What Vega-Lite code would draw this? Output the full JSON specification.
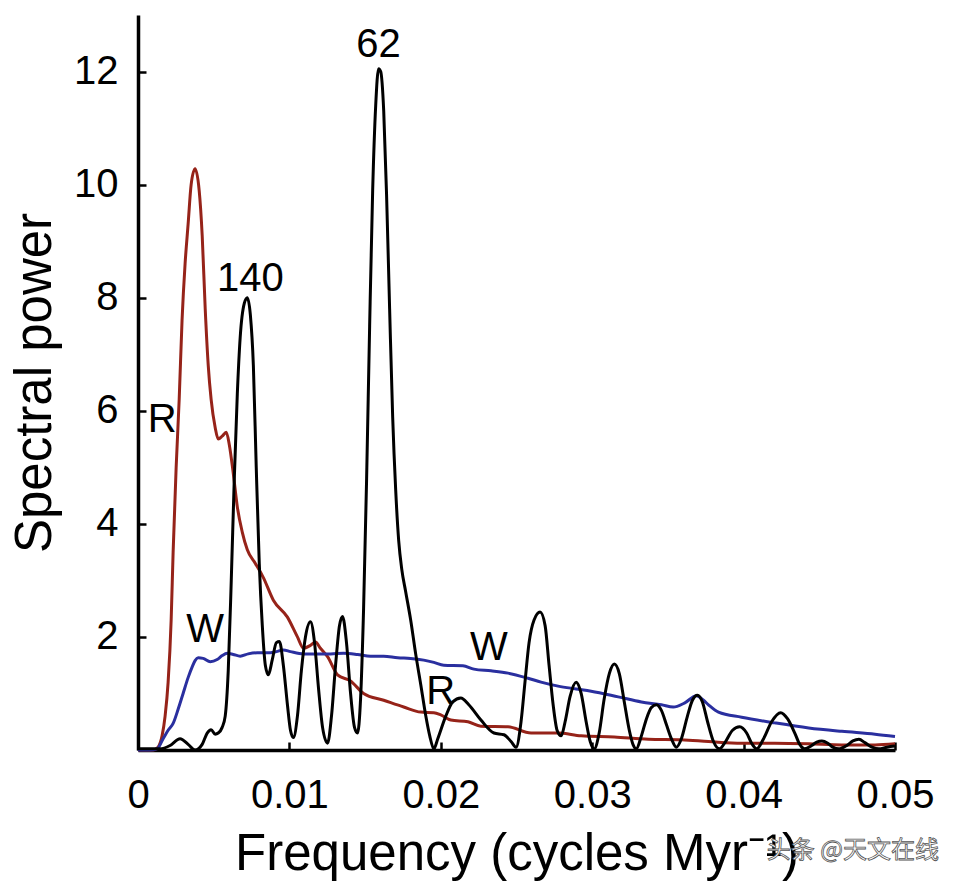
{
  "$schema": "https://vega.github.io/schema/vega-lite/v6.json",
  "description": "Spectral power vs frequency with R and W reference spectra",
  "autosize": {"type": "none"},
  "padding": {"left": 138, "top": 15, "right": 65, "bottom": 134},
  "width": 757,
  "height": 735,
  "background": "white",
  "config": {
    "view": {"stroke": null},
    "font": "Liberation Sans",
    "axis": {
      "grid": false,
      "domainColor": "#000000",
      "domainWidth": 3.5,
      "tickColor": "#000000",
      "tickWidth": 2.5,
      "tickSize": -8,
      "labelFont": "Liberation Sans",
      "labelFontSize": 40,
      "labelColor": "#000000",
      "titleFont": "Liberation Sans",
      "titleFontSize": 51,
      "titleFontWeight": "normal",
      "titleColor": "#000000"
    }
  },
  "datasets": {
    "curves": [
      {"series": "R", "freq": 0, "power": 0},
      {"series": "R", "freq": 0.00099, "power": 0},
      {"series": "R", "freq": 0.00132, "power": 0.05},
      {"series": "R", "freq": 0.00159, "power": 0.25},
      {"series": "R", "freq": 0.00179, "power": 0.6},
      {"series": "R", "freq": 0.00199, "power": 1.2},
      {"series": "R", "freq": 0.00219, "power": 2.3},
      {"series": "R", "freq": 0.00232, "power": 3.5},
      {"series": "R", "freq": 0.00252, "power": 5.0},
      {"series": "R", "freq": 0.00272, "power": 6.2},
      {"series": "R", "freq": 0.00291, "power": 7.6},
      {"series": "R", "freq": 0.00311, "power": 8.6},
      {"series": "R", "freq": 0.00331, "power": 9.3},
      {"series": "R", "freq": 0.00351, "power": 10.0},
      {"series": "R", "freq": 0.00377, "power": 10.28},
      {"series": "R", "freq": 0.00404, "power": 9.9},
      {"series": "R", "freq": 0.00424, "power": 9.1},
      {"series": "R", "freq": 0.00444, "power": 7.8},
      {"series": "R", "freq": 0.00464, "power": 6.8},
      {"series": "R", "freq": 0.00483, "power": 6.2},
      {"series": "R", "freq": 0.0051, "power": 5.7},
      {"series": "R", "freq": 0.0053, "power": 5.5},
      {"series": "R", "freq": 0.00556, "power": 5.55},
      {"series": "R", "freq": 0.00583, "power": 5.62},
      {"series": "R", "freq": 0.00603, "power": 5.4},
      {"series": "R", "freq": 0.00629, "power": 4.9},
      {"series": "R", "freq": 0.00656, "power": 4.3},
      {"series": "R", "freq": 0.00689, "power": 3.85},
      {"series": "R", "freq": 0.00722, "power": 3.54},
      {"series": "R", "freq": 0.00775, "power": 3.3},
      {"series": "R", "freq": 0.00828, "power": 3.05},
      {"series": "R", "freq": 0.00894, "power": 2.65},
      {"series": "R", "freq": 0.00987, "power": 2.35},
      {"series": "R", "freq": 0.01053, "power": 2.0},
      {"series": "R", "freq": 0.01093, "power": 1.8},
      {"series": "R", "freq": 0.01139, "power": 1.85},
      {"series": "R", "freq": 0.01172, "power": 1.91},
      {"series": "R", "freq": 0.01205, "power": 1.8},
      {"series": "R", "freq": 0.01252, "power": 1.65},
      {"series": "R", "freq": 0.01318, "power": 1.33},
      {"series": "R", "freq": 0.01404, "power": 1.22},
      {"series": "R", "freq": 0.0149, "power": 1.0},
      {"series": "R", "freq": 0.01623, "power": 0.88},
      {"series": "R", "freq": 0.01755, "power": 0.76},
      {"series": "R", "freq": 0.01868, "power": 0.67},
      {"series": "R", "freq": 0.01954, "power": 0.66},
      {"series": "R", "freq": 0.02, "power": 0.62},
      {"series": "R", "freq": 0.02066, "power": 0.53},
      {"series": "R", "freq": 0.02179, "power": 0.5},
      {"series": "R", "freq": 0.02265, "power": 0.42},
      {"series": "R", "freq": 0.02444, "power": 0.41},
      {"series": "R", "freq": 0.02596, "power": 0.3},
      {"series": "R", "freq": 0.02775, "power": 0.3},
      {"series": "R", "freq": 0.02927, "power": 0.25},
      {"series": "R", "freq": 0.03146, "power": 0.23},
      {"series": "R", "freq": 0.03371, "power": 0.19},
      {"series": "R", "freq": 0.03589, "power": 0.18},
      {"series": "R", "freq": 0.03768, "power": 0.15},
      {"series": "R", "freq": 0.03987, "power": 0.12},
      {"series": "R", "freq": 0.04205, "power": 0.12},
      {"series": "R", "freq": 0.0443, "power": 0.11},
      {"series": "R", "freq": 0.04649, "power": 0.09},
      {"series": "R", "freq": 0.04868, "power": 0.09},
      {"series": "R", "freq": 0.05, "power": 0.11},

      {"series": "W", "freq": 0, "power": 0},
      {"series": "W", "freq": 0.00079, "power": 0},
      {"series": "W", "freq": 0.00126, "power": 0.02},
      {"series": "W", "freq": 0.00166, "power": 0.2},
      {"series": "W", "freq": 0.00199, "power": 0.35},
      {"series": "W", "freq": 0.00232, "power": 0.47},
      {"series": "W", "freq": 0.00265, "power": 0.72},
      {"series": "W", "freq": 0.00298, "power": 1.0},
      {"series": "W", "freq": 0.00331, "power": 1.28},
      {"series": "W", "freq": 0.00358, "power": 1.47},
      {"series": "W", "freq": 0.00377, "power": 1.58},
      {"series": "W", "freq": 0.00397, "power": 1.63},
      {"series": "W", "freq": 0.0043, "power": 1.62},
      {"series": "W", "freq": 0.00477, "power": 1.56},
      {"series": "W", "freq": 0.00523, "power": 1.6},
      {"series": "W", "freq": 0.00556, "power": 1.67},
      {"series": "W", "freq": 0.00589, "power": 1.71},
      {"series": "W", "freq": 0.00629, "power": 1.69},
      {"series": "W", "freq": 0.00675, "power": 1.66},
      {"series": "W", "freq": 0.00728, "power": 1.7},
      {"series": "W", "freq": 0.00788, "power": 1.72},
      {"series": "W", "freq": 0.00874, "power": 1.72},
      {"series": "W", "freq": 0.00914, "power": 1.74},
      {"series": "W", "freq": 0.0096, "power": 1.77},
      {"series": "W", "freq": 0.01007, "power": 1.74},
      {"series": "W", "freq": 0.01093, "power": 1.7},
      {"series": "W", "freq": 0.01172, "power": 1.7},
      {"series": "W", "freq": 0.01272, "power": 1.7},
      {"series": "W", "freq": 0.01358, "power": 1.71},
      {"series": "W", "freq": 0.0145, "power": 1.69},
      {"series": "W", "freq": 0.01536, "power": 1.66},
      {"series": "W", "freq": 0.01623, "power": 1.66},
      {"series": "W", "freq": 0.01715, "power": 1.63},
      {"series": "W", "freq": 0.01801, "power": 1.62},
      {"series": "W", "freq": 0.01887, "power": 1.59},
      {"series": "W", "freq": 0.01954, "power": 1.55},
      {"series": "W", "freq": 0.0202, "power": 1.5},
      {"series": "W", "freq": 0.02146, "power": 1.49},
      {"series": "W", "freq": 0.02219, "power": 1.43},
      {"series": "W", "freq": 0.02331, "power": 1.4},
      {"series": "W", "freq": 0.02444, "power": 1.36},
      {"series": "W", "freq": 0.02576, "power": 1.27},
      {"series": "W", "freq": 0.02662, "power": 1.2},
      {"series": "W", "freq": 0.02775, "power": 1.13},
      {"series": "W", "freq": 0.02894, "power": 1.08},
      {"series": "W", "freq": 0.02993, "power": 1.04},
      {"series": "W", "freq": 0.03172, "power": 0.94},
      {"series": "W", "freq": 0.03325, "power": 0.85},
      {"series": "W", "freq": 0.03457, "power": 0.8},
      {"series": "W", "freq": 0.03536, "power": 0.76},
      {"series": "W", "freq": 0.03609, "power": 0.83},
      {"series": "W", "freq": 0.03689, "power": 0.96},
      {"series": "W", "freq": 0.03735, "power": 0.88},
      {"series": "W", "freq": 0.03768, "power": 0.8},
      {"series": "W", "freq": 0.03834, "power": 0.67},
      {"series": "W", "freq": 0.03987, "power": 0.58},
      {"series": "W", "freq": 0.04205, "power": 0.48},
      {"series": "W", "freq": 0.0443, "power": 0.39},
      {"series": "W", "freq": 0.04649, "power": 0.33},
      {"series": "W", "freq": 0.04868, "power": 0.28},
      {"series": "W", "freq": 0.05, "power": 0.24},

      {"series": "data", "freq": 0, "power": 0.02},
      {"series": "data", "freq": 0.00146, "power": 0.02},
      {"series": "data", "freq": 0.00212, "power": 0.08},
      {"series": "data", "freq": 0.00278, "power": 0.2},
      {"series": "data", "freq": 0.00331, "power": 0.1},
      {"series": "data", "freq": 0.00377, "power": 0.0},
      {"series": "data", "freq": 0.00424, "power": 0.1},
      {"series": "data", "freq": 0.00457, "power": 0.3},
      {"series": "data", "freq": 0.00483, "power": 0.36},
      {"series": "data", "freq": 0.0051, "power": 0.28},
      {"series": "data", "freq": 0.0053, "power": 0.3},
      {"series": "data", "freq": 0.00556, "power": 0.4},
      {"series": "data", "freq": 0.00576, "power": 0.6},
      {"series": "data", "freq": 0.00596, "power": 1.4},
      {"series": "data", "freq": 0.00616, "power": 3.0},
      {"series": "data", "freq": 0.00636, "power": 4.8},
      {"series": "data", "freq": 0.00656, "power": 6.3},
      {"series": "data", "freq": 0.00675, "power": 7.3},
      {"series": "data", "freq": 0.00702, "power": 7.9},
      {"series": "data", "freq": 0.00722, "power": 8.0},
      {"series": "data", "freq": 0.00742, "power": 7.7},
      {"series": "data", "freq": 0.00762, "power": 6.8},
      {"series": "data", "freq": 0.00781, "power": 5.0},
      {"series": "data", "freq": 0.00801, "power": 3.3},
      {"series": "data", "freq": 0.00821, "power": 2.2},
      {"series": "data", "freq": 0.00841, "power": 1.5},
      {"series": "data", "freq": 0.00861, "power": 1.33},
      {"series": "data", "freq": 0.00887, "power": 1.6},
      {"series": "data", "freq": 0.00914, "power": 1.9},
      {"series": "data", "freq": 0.00934, "power": 1.92},
      {"series": "data", "freq": 0.0096, "power": 1.5},
      {"series": "data", "freq": 0.00987, "power": 0.8},
      {"series": "data", "freq": 0.01007, "power": 0.35},
      {"series": "data", "freq": 0.01026, "power": 0.22},
      {"series": "data", "freq": 0.01053, "power": 0.6},
      {"series": "data", "freq": 0.01079, "power": 1.4},
      {"series": "data", "freq": 0.01106, "power": 2.0},
      {"series": "data", "freq": 0.01139, "power": 2.27},
      {"series": "data", "freq": 0.01166, "power": 1.9},
      {"series": "data", "freq": 0.01192, "power": 1.1},
      {"series": "data", "freq": 0.01219, "power": 0.4},
      {"series": "data", "freq": 0.01252, "power": 0.12},
      {"series": "data", "freq": 0.01278, "power": 0.6},
      {"series": "data", "freq": 0.01305, "power": 1.5},
      {"series": "data", "freq": 0.01331, "power": 2.2},
      {"series": "data", "freq": 0.01351, "power": 2.36},
      {"series": "data", "freq": 0.01377, "power": 1.9},
      {"series": "data", "freq": 0.01404, "power": 1.0},
      {"series": "data", "freq": 0.0143, "power": 0.4},
      {"series": "data", "freq": 0.0145, "power": 0.3},
      {"series": "data", "freq": 0.0147, "power": 0.9},
      {"series": "data", "freq": 0.0149, "power": 2.5},
      {"series": "data", "freq": 0.0151, "power": 4.8},
      {"series": "data", "freq": 0.0153, "power": 7.5},
      {"series": "data", "freq": 0.0155, "power": 9.9},
      {"series": "data", "freq": 0.0157, "power": 11.4},
      {"series": "data", "freq": 0.01589, "power": 12.05},
      {"series": "data", "freq": 0.01603, "power": 12.0},
      {"series": "data", "freq": 0.01623, "power": 11.3},
      {"series": "data", "freq": 0.01642, "power": 9.8},
      {"series": "data", "freq": 0.01662, "power": 7.8},
      {"series": "data", "freq": 0.01682, "power": 5.9},
      {"series": "data", "freq": 0.01702, "power": 4.6},
      {"series": "data", "freq": 0.01722, "power": 3.7},
      {"series": "data", "freq": 0.01742, "power": 3.2},
      {"series": "data", "freq": 0.01768, "power": 2.8},
      {"series": "data", "freq": 0.01801, "power": 2.3},
      {"series": "data", "freq": 0.01834, "power": 1.7},
      {"series": "data", "freq": 0.01868, "power": 1.15},
      {"series": "data", "freq": 0.01901, "power": 0.6},
      {"series": "data", "freq": 0.01927, "power": 0.25},
      {"series": "data", "freq": 0.01954, "power": 0.02},
      {"series": "data", "freq": 0.0198, "power": 0.2},
      {"series": "data", "freq": 0.02033, "power": 0.6},
      {"series": "data", "freq": 0.02079, "power": 0.85},
      {"series": "data", "freq": 0.02132, "power": 0.92},
      {"series": "data", "freq": 0.02185, "power": 0.8},
      {"series": "data", "freq": 0.02265, "power": 0.53},
      {"series": "data", "freq": 0.02351, "power": 0.3},
      {"series": "data", "freq": 0.02417, "power": 0.27},
      {"series": "data", "freq": 0.02464, "power": 0.15},
      {"series": "data", "freq": 0.02497, "power": 0.05},
      {"series": "data", "freq": 0.0253, "power": 0.5},
      {"series": "data", "freq": 0.02556, "power": 1.2},
      {"series": "data", "freq": 0.02583, "power": 1.9},
      {"series": "data", "freq": 0.02616, "power": 2.3},
      {"series": "data", "freq": 0.02656, "power": 2.44},
      {"series": "data", "freq": 0.02689, "power": 2.2},
      {"series": "data", "freq": 0.02715, "power": 1.5},
      {"series": "data", "freq": 0.02742, "power": 0.8},
      {"series": "data", "freq": 0.02768, "power": 0.35},
      {"series": "data", "freq": 0.02795, "power": 0.25},
      {"series": "data", "freq": 0.02821, "power": 0.5},
      {"series": "data", "freq": 0.02854, "power": 0.95},
      {"series": "data", "freq": 0.02894, "power": 1.2},
      {"series": "data", "freq": 0.02927, "power": 1.0},
      {"series": "data", "freq": 0.0296, "power": 0.5},
      {"series": "data", "freq": 0.02987, "power": 0.15},
      {"series": "data", "freq": 0.03013, "power": 0.02},
      {"series": "data", "freq": 0.03046, "power": 0.3},
      {"series": "data", "freq": 0.03079, "power": 0.9},
      {"series": "data", "freq": 0.03113, "power": 1.35},
      {"series": "data", "freq": 0.03146, "power": 1.52},
      {"series": "data", "freq": 0.03179, "power": 1.35},
      {"series": "data", "freq": 0.03212, "power": 0.85},
      {"series": "data", "freq": 0.03245, "power": 0.35},
      {"series": "data", "freq": 0.03272, "power": 0.08},
      {"series": "data", "freq": 0.03291, "power": 0.02},
      {"series": "data", "freq": 0.03325, "power": 0.25},
      {"series": "data", "freq": 0.03358, "power": 0.55},
      {"series": "data", "freq": 0.03391, "power": 0.75},
      {"series": "data", "freq": 0.03424, "power": 0.8},
      {"series": "data", "freq": 0.03457, "power": 0.7},
      {"series": "data", "freq": 0.0349, "power": 0.45},
      {"series": "data", "freq": 0.03523, "power": 0.2},
      {"series": "data", "freq": 0.03556, "power": 0.05},
      {"series": "data", "freq": 0.03589, "power": 0.2},
      {"series": "data", "freq": 0.03629, "power": 0.6},
      {"series": "data", "freq": 0.03662, "power": 0.88},
      {"series": "data", "freq": 0.03695, "power": 0.97},
      {"series": "data", "freq": 0.03728, "power": 0.85},
      {"series": "data", "freq": 0.03762, "power": 0.5},
      {"series": "data", "freq": 0.03801, "power": 0.15},
      {"series": "data", "freq": 0.03841, "power": 0.02},
      {"series": "data", "freq": 0.03881, "power": 0.15},
      {"series": "data", "freq": 0.03927, "power": 0.35},
      {"series": "data", "freq": 0.03974, "power": 0.41},
      {"series": "data", "freq": 0.0402, "power": 0.3},
      {"series": "data", "freq": 0.04053, "power": 0.12},
      {"series": "data", "freq": 0.04086, "power": 0.02},
      {"series": "data", "freq": 0.04132, "power": 0.2},
      {"series": "data", "freq": 0.04185, "power": 0.5},
      {"series": "data", "freq": 0.04245, "power": 0.66},
      {"series": "data", "freq": 0.04291, "power": 0.55},
      {"series": "data", "freq": 0.04338, "power": 0.3},
      {"series": "data", "freq": 0.04371, "power": 0.1},
      {"series": "data", "freq": 0.04404, "power": 0.02},
      {"series": "data", "freq": 0.0445, "power": 0.08},
      {"series": "data", "freq": 0.04483, "power": 0.14},
      {"series": "data", "freq": 0.04517, "power": 0.16},
      {"series": "data", "freq": 0.04556, "power": 0.12},
      {"series": "data", "freq": 0.04589, "power": 0.05},
      {"series": "data", "freq": 0.04629, "power": 0.02},
      {"series": "data", "freq": 0.04682, "power": 0.08},
      {"series": "data", "freq": 0.04722, "power": 0.16},
      {"series": "data", "freq": 0.04762, "power": 0.19},
      {"series": "data", "freq": 0.04801, "power": 0.13},
      {"series": "data", "freq": 0.04848, "power": 0.05},
      {"series": "data", "freq": 0.04894, "power": 0.02},
      {"series": "data", "freq": 0.04947, "power": 0.05},
      {"series": "data", "freq": 0.05, "power": 0.07}
    ],
    "labels": [
      {"label": "62", "freq": 0.01589, "power": 12.25},
      {"label": "140", "freq": 0.00742, "power": 8.11},
      {"label": "R", "freq": 0.00159, "power": 5.63},
      {"label": "W", "freq": 0.00444, "power": 1.91},
      {"label": "W", "freq": 0.02318, "power": 1.59},
      {"label": "R", "freq": 0.02, "power": 0.81}
    ],
    "watermark": [
      {"label": "头条 @天文在线", "freq": 0.04722, "power": -1.91}
    ]
  },
  "encoding": {
    "x": {
      "field": "freq",
      "type": "quantitative",
      "scale": {"domain": [0, 0.05], "nice": false, "zero": false},
      "axis": {
        "title": "Frequency (cycles Myr⁻¹)",
        "values": [0, 0.01, 0.02, 0.03, 0.04, 0.05],
        "format": ".2~f",
        "labelFlush": false,
        "labelPadding": 33,
        "titlePadding": 14
      }
    },
    "y": {
      "field": "power",
      "type": "quantitative",
      "scale": {"domain": [0, 13], "nice": false, "zero": false},
      "axis": {
        "title": "Spectral power",
        "values": [2, 4, 6, 8, 10, 12],
        "labelFlush": false,
        "labelPadding": 28,
        "titlePadding": 12
      }
    }
  },
  "layer": [
    {
      "data": {"name": "curves"},
      "mark": {"type": "line", "interpolate": "monotone", "strokeJoin": "round"},
      "encoding": {
        "color": {
          "field": "series",
          "type": "nominal",
          "legend": null,
          "scale": {"domain": ["R", "W", "data"], "range": ["#962319", "#2a2f9f", "#000000"]}
        },
        "strokeWidth": {
          "field": "series",
          "type": "nominal",
          "legend": null,
          "scale": {"domain": ["R", "W", "data"], "range": [3, 3, 3.8]}
        }
      }
    },
    {
      "data": {"name": "labels"},
      "mark": {"type": "text", "font": "Liberation Sans", "fontSize": 40, "align": "center", "baseline": "alphabetic", "color": "#000000"},
      "encoding": {"text": {"field": "label"}}
    },
    {
      "data": {"name": "watermark"},
      "mark": {"type": "text", "font": "Noto Sans CJK SC", "fontSize": 24, "align": "center", "baseline": "alphabetic", "color": "#ffffff", "stroke": "#555555", "strokeWidth": 0.8},
      "encoding": {"text": {"field": "label"}}
    }
  ]
}
